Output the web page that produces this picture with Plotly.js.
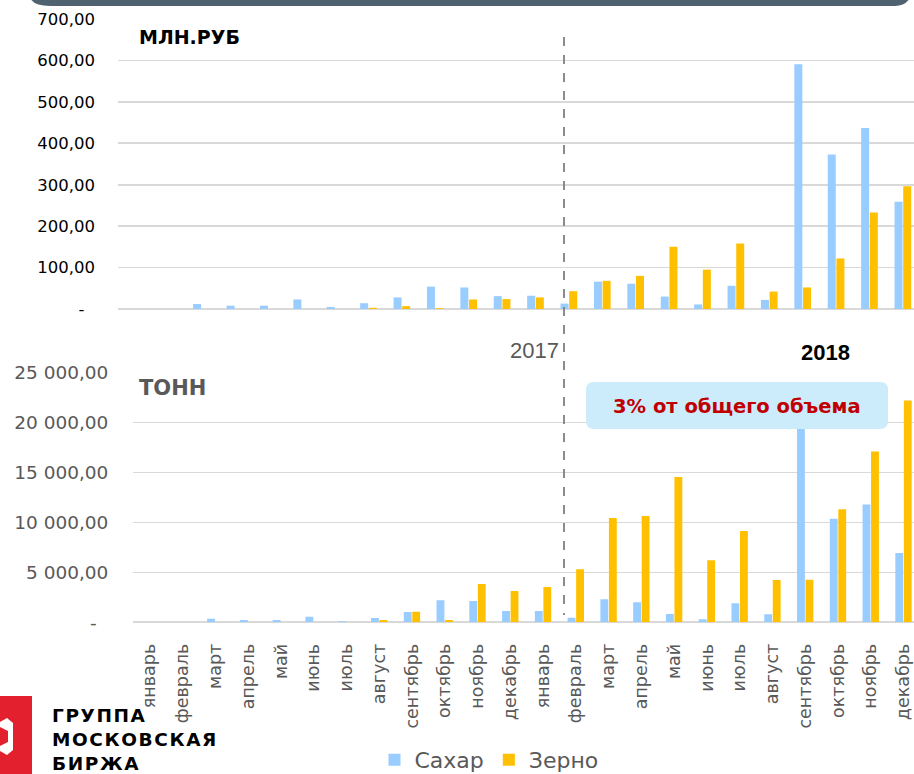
<!DOCTYPE html>
<html>
<head>
<meta charset="utf-8">
<script src="https://cdn.plot.ly/plotly-3.0.1.min.js"></script>
<style>html,body{margin:0;padding:0;background:#fff;}#chart{width:914px;height:774px;}</style>
</head>
<body>
<div id="chart"></div>
<script>
// ---- data ----
const months = ["январь","февраль","март","апрель","май","июнь","июль","август","сентябрь","октябрь","ноябрь","декабрь",
                "январь","февраль","март","апрель","май","июнь","июль","август","сентябрь","октябрь","ноябрь","декабрь"];
const seriesNames = ["Сахар", "Зерно"];
// млн. руб
const sugarRub = [0, 0, 12, 8, 8, 23, 5, 14, 28, 54, 52, 31, 32, 13, 66, 61, 30, 11, 56, 22, 591, 373, 437, 259];
const grainRub = [0, 0, 0, 0, 0, 0, 0, 3, 7, 2, 23, 24, 28, 43, 68, 80, 150, 95, 158, 42, 52, 122, 233, 296];
// тонн
const sugarTon = [0, 0, 360, 230, 230, 560, 110, 430, 1030, 2200, 2130, 1130, 1130, 460, 2300, 2000, 830, 300, 1900, 800, 21500, 10380, 11790, 6950];
const grainTon = [0, 0, 0, 0, 0, 0, 0, 230, 1060, 230, 3840, 3140, 3540, 5310, 10450, 10650, 14560, 6210, 9150, 4240, 4270, 11320, 17100, 22210];
const rubTicks = [0, 100, 200, 300, 400, 500, 600, 700];
const rubTickText = ["-\u00a0\u00a0", "100,00", "200,00", "300,00", "400,00", "500,00", "600,00", "700,00"];
const tonTicks = [0, 5000, 10000, 15000, 20000, 25000];
const tonTickText = ["-\u00a0\u00a0", "5 000,00", "10 000,00", "15 000,00", "20 000,00", "25 000,00"];
const calloutText = "3% от общего объема";
const logoLines = ["ГРУППА", "МОСКОВСКАЯ", "БИРЖА"];

// ---- helpers ----
const W = 914, H = 774;
const px = x => x / W;
const py = y => 1 - y / H;
const idx = months.map((m, i) => i);
const cSugar = "#99CCFF", cGrain = "#FFC000";

const traces = [
  {type: "bar", x: idx, y: sugarRub, name: seriesNames[0], xaxis: "x", yaxis: "y", marker: {color: cSugar}, legendgroup: "s", showlegend: false, hoverinfo: "skip"},
  {type: "bar", x: idx, y: grainRub, name: seriesNames[1], xaxis: "x", yaxis: "y", marker: {color: cGrain}, legendgroup: "g", showlegend: false, hoverinfo: "skip"},
  {type: "bar", x: idx, y: sugarTon, name: seriesNames[0], xaxis: "x2", yaxis: "y2", marker: {color: cSugar}, legendgroup: "s", hoverinfo: "skip"},
  {type: "bar", x: idx, y: grainTon, name: seriesNames[1], xaxis: "x2", yaxis: "y2", marker: {color: cGrain}, legendgroup: "g", hoverinfo: "skip"}
];

const P = (x, y) => px(x).toFixed(5) + "," + py(y).toFixed(5);
function roundRect(x0, y0, x1, y1, r) {
  return "M" + P(x0 + r, y0) + " L" + P(x1 - r, y0) + " Q" + P(x1, y0) + " " + P(x1, y0 + r) +
         " L" + P(x1, y1 - r) + " Q" + P(x1, y1) + " " + P(x1 - r, y1) +
         " L" + P(x0 + r, y1) + " Q" + P(x0, y1) + " " + P(x0, y1 - r) +
         " L" + P(x0, y0 + r) + " Q" + P(x0, y0) + " " + P(x0 + r, y0) + " Z";
}

const gridC = "#D9D9D9";
const layout = {
  width: W, height: H,
  margin: {l: 0, r: 0, t: 0, b: 0, autoexpand: false},
  paper_bgcolor: "#fff", plot_bgcolor: "rgba(0,0,0,0)",
  barmode: "group", bargap: 0.48, bargroupgap: 0.08,
  font: {family: "DejaVu Sans", color: "#595959"},
  showlegend: true,
  legend: {orientation: "h", x: px(489), xanchor: "center", y: py(760), yanchor: "middle",
           font: {family: "DejaVu Sans", size: 22, color: "#595959"}, itemclick: false, itemdoubleclick: false},
  xaxis: {domain: [px(118), 1], range: [-0.5, 23.333], showticklabels: false, showgrid: false, zeroline: false, showline: false, fixedrange: true},
  yaxis: {domain: [py(309), py(18.8)], range: [0, 700.5], tickvals: rubTicks, ticktext: rubTickText,
          showgrid: true, gridcolor: gridC, gridwidth: 1.6, zeroline: true, zerolinecolor: gridC, zerolinewidth: 1.6, showline: false, ticks: "",
          ticklabelstandoff: 22, tickfont: {family: "DejaVu Sans", size: 16.5, color: "#000000"}},
  xaxis2: {domain: [px(133.4), 1], range: [-0.5, 23.32], anchor: "y2", tickvals: idx, ticktext: months, tickangle: -90,
           showgrid: false, zeroline: false, showline: false, ticks: "", ticklabelstandoff: 17,
           tickfont: {family: "DejaVu Sans", size: 17.5, color: "#595959"}},
  yaxis2: {domain: [py(622.3), py(372.5)], range: [0, 25020], anchor: "x2", tickvals: tonTicks, ticktext: tonTickText,
           showgrid: true, gridcolor: gridC, gridwidth: 1.6, zeroline: true, zerolinecolor: gridC, zerolinewidth: 1.6, showline: false, ticks: "",
           ticklabelstandoff: 24, tickfont: {family: "DejaVu Sans", size: 18.5, color: "#595959"}},
  shapes: [
    // top banner
    {type: "path", xref: "paper", yref: "paper", layer: "above", line: {width: 0}, fillcolor: "#4F6270",
     path: "M" + P(30, -2) + " Q" + P(34, 6) + " " + P(50, 6) + " L" + P(895, 6) + " Q" + P(905, 6) + " " + P(910, -2) + " Z"},
    // dashed divider
    {type: "line", xref: "paper", yref: "paper", x0: px(564), x1: px(564), y0: py(37), y1: py(615),
     line: {color: "#808080", width: 1.8, dash: "dash"}},
    // callout box
    {type: "path", xref: "paper", yref: "paper", layer: "above", line: {width: 0}, fillcolor: "#CCECFC",
     path: roundRect(586, 382, 888, 429, 8)},
    // logo red block
    {type: "rect", xref: "paper", yref: "paper", x0: 0, x1: px(32), y0: py(774), y1: py(696), line: {width: 0}, fillcolor: "#E3202E"},
    {type: "path", xref: "paper", yref: "paper", line: {width: 0}, fillcolor: "#FFFFFF",
     path: "M" + P(0, 722) + " L" + P(7, 718) + " L" + P(13, 723) + " L" + P(13, 750) + " L" + P(7, 755) + " L" + P(0, 751) + " Z"},
    {type: "path", xref: "paper", yref: "paper", line: {width: 0}, fillcolor: "#E3202E",
     path: "M" + P(0, 727) + " L" + P(8, 731) + " L" + P(8, 742) + " L" + P(0, 746) + " Z"}
  ],
  annotations: [
    {xref: "paper", yref: "paper", x: px(137), y: py(37), xanchor: "left", yanchor: "middle", showarrow: false,
     text: "<b>МЛН.РУБ</b>", font: {family: "DejaVu Sans", size: 19, color: "#000000"}},
    {xref: "paper", yref: "paper", x: px(137), y: py(388), xanchor: "left", yanchor: "middle", showarrow: false,
     text: "<b>ТОНН</b>", font: {family: "DejaVu Sans", size: 21, color: "#595959"}},
    {xref: "paper", yref: "paper", x: px(561), y: py(350), xanchor: "right", yanchor: "middle", showarrow: false,
     text: "2017", font: {family: "Liberation Sans", size: 22, color: "#595959"}},
    {xref: "paper", yref: "paper", x: px(825), y: py(352), xanchor: "center", yanchor: "middle", showarrow: false,
     text: "<b>2018</b>", font: {family: "Liberation Sans", size: 22, color: "#000000"}},
    {xref: "paper", yref: "paper", x: px(737), y: py(406), xanchor: "center", yanchor: "middle", showarrow: false,
     text: "<b>" + calloutText + "</b>", font: {family: "DejaVu Sans", size: 19.5, color: "#C00000"}},
    {xref: "paper", yref: "paper", x: px(50), y: py(739), xanchor: "left", yanchor: "middle", align: "left", showarrow: false,
     text: logoLines.map(s => "<b><span style=\"letter-spacing:1.6px\">" + s + "</span></b>").join("<br>"),
     font: {family: "DejaVu Sans", size: 18.5, color: "#000000"}}
  ]
};

Plotly.newPlot("chart", traces, layout, {staticPlot: true, displayModeBar: false});
</script>
</body>
</html>
